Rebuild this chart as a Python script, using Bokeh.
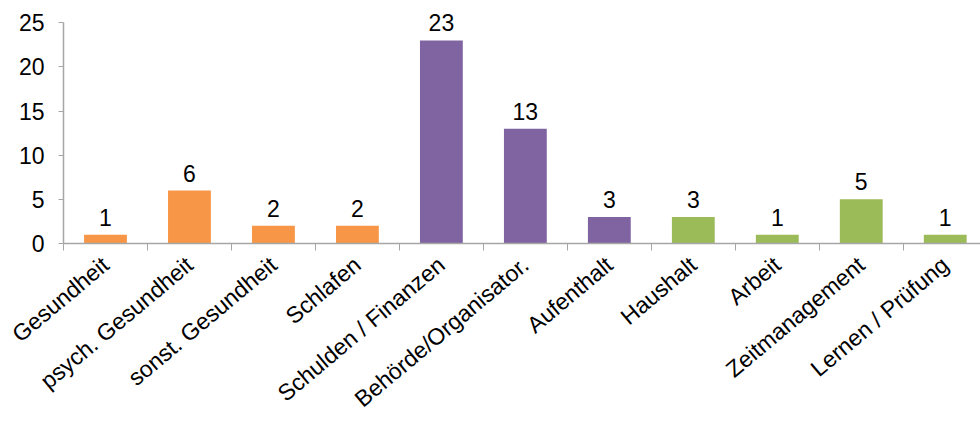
import math
from bokeh.plotting import figure
from bokeh.models import ColumnDataSource, Range1d, FixedTicker
from bokeh.core.properties import value
from bokeh.embed import file_html
from bokeh.resources import INLINE

categories = ["Gesundheit", "psych. Gesundheit", "sonst. Gesundheit", "Schlafen",
              "Schulden / Finanzen", "Behörde/Organisator.", "Aufenthalt", "Haushalt",
              "Arbeit", "Zeitmanagement", "Lernen / Prüfung"]
counts = [1, 6, 2, 2, 23, 13, 3, 3, 1, 5, 1]
groups = ["o", "o", "o", "o", "p", "p", "p", "g", "g", "g", "g"]
group_colors = {"o": "#F79646", "p": "#8064A2", "g": "#9BBB59"}
y_ticks = [0, 5, 10, 15, 20, 25]

xs = list(range(len(categories)))
src = ColumnDataSource(dict(
    x=xs, y=counts, label=[str(c) for c in counts],
    color=[group_colors[g] for g in groups],
))

FONT = "Liberation Sans"
PX_PER_UNIT = 221 / 25.0
Y_TOP = 26.5
top_border = int(round(243 - Y_TOP * PX_PER_UNIT))

p = figure(width=980, height=424, output_backend="svg", toolbar_location=None,
           x_range=Range1d(-0.5, 10.42), y_range=Range1d(0, Y_TOP),
           min_border_left=63, min_border_right=0, min_border_top=top_border,
           min_border_bottom=181)
p.outline_line_color = None
p.xgrid.grid_line_color = None
p.ygrid.grid_line_color = None
p.background_fill_color = "white"
p.border_fill_color = "white"

p.vbar(x="x", top="y", width=0.51, bottom=0, source=src,
       fill_color="color", line_color=None)

p.text(x="x", y="y", text="label", source=src, text_align="center",
       text_baseline="bottom", y_offset=-9, text_font=value(FONT),
       text_font_size="23px", text_color="black")

# x axis
p.xaxis.ticker = FixedTicker(ticks=xs, minor_ticks=[i - 0.5 for i in range(len(categories) + 1)])
p.xaxis.major_label_overrides = {i: c for i, c in enumerate(categories)}
p.xaxis.major_label_orientation = math.radians(40)
p.xaxis.major_tick_line_color = None
p.xaxis.minor_tick_line_color = "#A6A6A6"
p.xaxis.minor_tick_out = 7
p.xaxis.minor_tick_in = 0
p.xaxis.axis_line_color = "#A6A6A6"
p.xaxis.axis_line_width = 1.5
p.xaxis.major_label_text_font = FONT
p.xaxis.major_label_text_font_size = "23px"
p.xaxis.major_label_text_color = "black"
p.xaxis.major_label_standoff = 11

# y axis
p.yaxis.ticker = FixedTicker(ticks=y_ticks)
p.yaxis.bounds = (0, 25)
p.yaxis.minor_tick_line_color = None
p.yaxis.major_tick_line_color = "#A6A6A6"
p.yaxis.major_tick_out = 5
p.yaxis.major_tick_in = 0
p.yaxis.axis_line_color = "#A6A6A6"
p.yaxis.axis_line_width = 1.5
p.yaxis.major_label_text_font = FONT
p.yaxis.major_label_text_font_size = "23px"
p.yaxis.major_label_text_color = "black"
p.yaxis.major_label_standoff = 14

open("out.html", "w").write(file_html(p, INLINE))
